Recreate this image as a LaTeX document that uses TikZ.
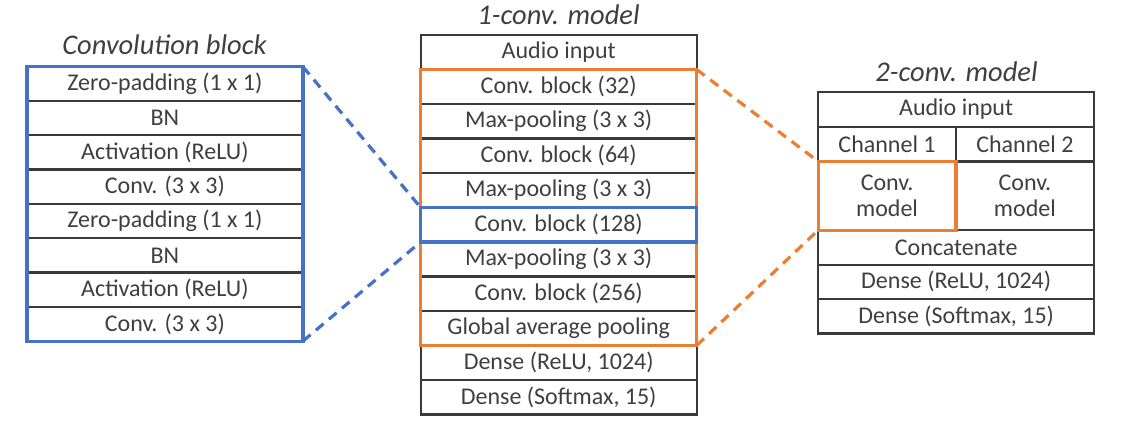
\documentclass[tikz,border=0pt]{standalone}
\usepackage{fontspec}
\setmainfont{Carlito}
\usetikzlibrary{fit}
\definecolor{linec}{HTML}{3A3A3A}
\definecolor{textc}{HTML}{3F3F3F}
\definecolor{hblue}{HTML}{4472C4}
\definecolor{horange}{HTML}{ED7D31}
\tikzset{
  cell/.style={draw=linec, line width=2.2pt, rectangle, inner sep=0pt, outer sep=0pt,
    minimum height=34.4pt, text=textc, font=\fontsize{24}{26}\selectfont, align=center},
  wcell/.style={cell, minimum width=276pt},
  hcell/.style={cell, minimum width=137.85pt},
  ttl/.style={text=textc, font=\fontsize{28.5}{32}\selectfont\itshape},
  hlb/.style={draw=hblue, line width=3.2pt, inner sep=0pt, outer sep=0pt},
  hlo/.style={draw=horange, line width=3.2pt, inner sep=0pt, outer sep=0pt},
  dashb/.style={draw=hblue, line width=3.2pt, dash pattern=on 10pt off 7pt},
  dasho/.style={draw=horange, line width=3.2pt, dash pattern=on 10pt off 7pt},
}
\begin{document}
\begin{tikzpicture}[x=1pt,y=-1pt]
\useasboundingbox (0,0) rectangle (1125,431);
% Convolution block
\node[ttl] (t1) at (164.5,45) {Convolution block};
\foreach \t [count=\i] in {Zero-padding (1 x 1),BN,Activation (ReLU),Conv. (3 x 3),Zero-padding (1 x 1),BN,Activation (ReLU),Conv. (3 x 3)}
  \node[wcell] (l\i) at (164.9,{66.7+34.3*(\i-0.5)}) {\t};
% 1-conv model
\node[ttl] (t2) at (558.5,15) {1-conv. model};
\foreach \t [count=\i] in {Audio input,Conv. block (32),Max-pooling (3 x 3),Conv. block (64),Max-pooling (3 x 3),Conv. block (128),Max-pooling (3 x 3),Conv. block (256),Global average pooling,{Dense (ReLU, 1024)},{Dense (Softmax, 15)}}
  \node[wcell] (m\i) at (558.7,{35+34.5*(\i-0.5)}) {\t};
% 2-conv model
\node[ttl] (t3) at (956.5,72) {2-conv. model};
\node[cell, minimum width=275.7pt] (r1) at (956.15,109.5) {Audio input};
\node[hcell] (r2a) at (887.05,144.2) {Channel 1};
\node[hcell] (r2b) at (1024.9,144.2) {Channel 2};
\node[hcell, minimum height=68.8pt] (r3a) at (887.05,195.8) {Conv.\\model};
\node[hcell, minimum height=68.8pt] (r3b) at (1024.9,195.8) {Conv.\\model};
\node[cell, minimum width=275.7pt] (r4) at (956.15,247.4) {Concatenate};
\node[cell, minimum width=275.7pt] (r5) at (956.15,281.8) {Dense (ReLU, 1024)};
\node[cell, minimum width=275.7pt] (r6) at (956.15,316.2) {Dense (Softmax, 15)};
% highlights
\node[hlb, fit=(l1)(l8)] (cb) {};
\node[hlo, fit=(m2)(m9)] (ob) {};
\node[hlb, fit=(m6)] (bb) {};
\node[hlo, fit=(r3a)] (rb) {};
% connectors
\draw[dashb] (cb.north east) -- (bb.north west);
\draw[dashb] (cb.south east) -- (bb.south west);
\draw[dasho] (ob.north east) -- (rb.north west);
\draw[dasho] (ob.south east) -- (rb.south west);
\end{tikzpicture}
\end{document}
